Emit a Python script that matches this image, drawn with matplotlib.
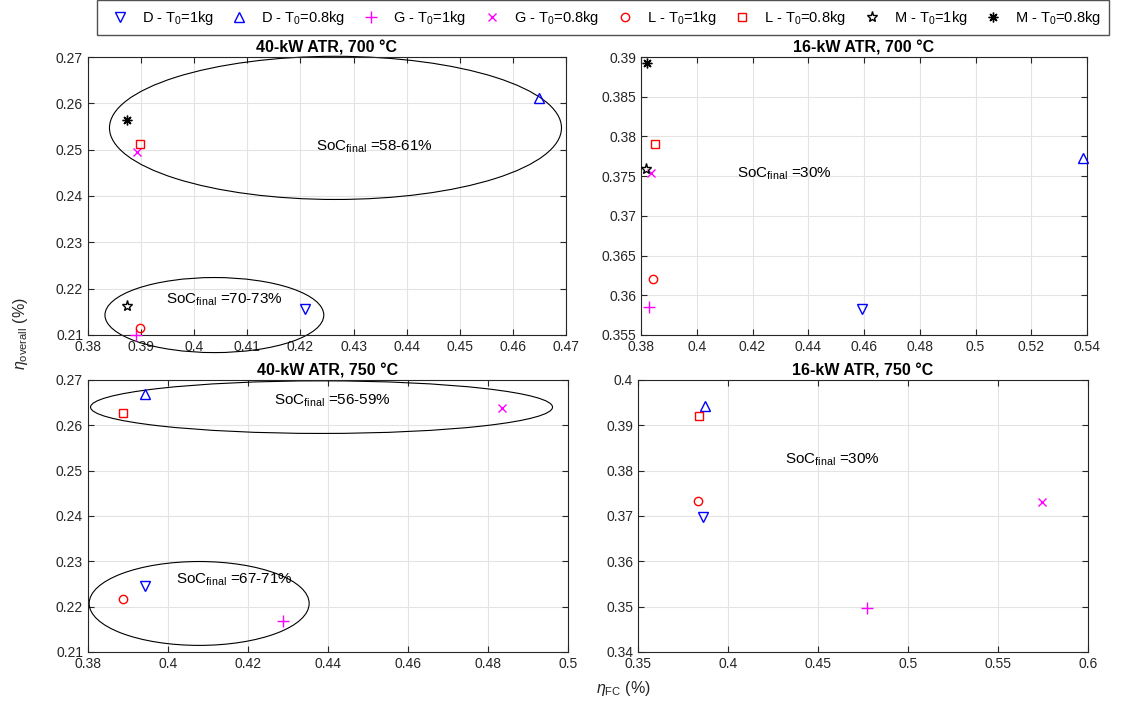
import matplotlib
matplotlib.use('Agg')
import matplotlib.pyplot as plt
from matplotlib.patches import Ellipse
from matplotlib.ticker import FuncFormatter
import numpy as np

plt.rcParams['font.family'] = ['Liberation Sans', 'DejaVu Sans']
plt.rcParams['mathtext.fontset'] = 'custom'
plt.rcParams['mathtext.rm'] = 'Liberation Sans'
plt.rcParams['mathtext.it'] = 'Liberation Sans:italic'

labels = ['D - T$_0$=1kg', 'D - T$_0$=0.8kg', 'G - T$_0$=1kg', 'G - T$_0$=0.8kg',
          'L - T$_0$=1kg', 'L - T$_0$=0.8kg', 'M - T$_0$=1kg', 'M - T$_0$=0.8kg']

# order: D1, D0.8, G1, G0.8, L1, L0.8, M1, M0.8
x_40_700 = [0.4209, 0.4649, 0.3890, 0.3892, 0.3898, 0.3898, 0.3874, 0.3874]
y_40_700 = [0.2156, 0.2612, 0.2100, 0.2496, 0.2114, 0.2512, 0.2163, 0.2565]

x_16_700 = [0.4591, 0.5384, 0.3830, 0.3837, 0.3842, 0.3851, 0.3818, 0.3822]
y_16_700 = [0.3583, 0.3773, 0.3585, 0.3754, 0.3620, 0.3790, 0.3759, 0.3893]

x_40_750 = [0.3942, 0.3942, 0.4287, 0.4835, 0.3887, 0.3887, np.nan, np.nan]
y_40_750 = [0.2246, 0.2668, 0.2169, 0.2639, 0.2216, 0.2626, np.nan, np.nan]

x_16_750 = [0.3859, 0.3870, 0.4775, 0.5743, 0.3831, 0.3837, np.nan, np.nan]
y_16_750 = [0.3697, 0.3943, 0.3496, 0.3731, 0.3734, 0.3920, np.nan, np.nan]

markers = ['v', '^', '+', 'x', 'o', 's', '*', (8, 2, 0)]
colors = ['blue', 'blue', 'magenta', 'magenta', 'red', 'red', 'black', 'black']
msizes = [7, 7, 8, 6, 6, 6, 8, 7]

fig = plt.figure(figsize=(11.32, 7.17), dpi=100)

panels = [
    dict(rect=[0.0777, 0.5328, 0.4223, 0.3877], x=x_40_700, y=y_40_700,
         title='40-kW ATR, 700 °C', xlim=(0.38, 0.47), xt=np.arange(0.38, 0.4701, 0.01),
         ylim=(0.21, 0.27), yt=np.arange(0.21, 0.2701, 0.01),
         ell=[(0.4266, 0.2547, 0.0851, 0.0309), (0.4038, 0.2143, 0.0412, 0.0162)],
         txt=[(0.4230, 0.2507, '58-61%'), (0.3947, 0.2175, '70-73%')]),
    dict(rect=[0.5663, 0.5328, 0.3940, 0.3877], x=x_16_700, y=y_16_700,
         title='16-kW ATR, 700 °C', xlim=(0.38, 0.54), xt=np.arange(0.38, 0.5401, 0.02),
         ylim=(0.355, 0.39), yt=np.arange(0.355, 0.3901, 0.005),
         ell=[], txt=[(0.4144, 0.3753, '30%')]),
    dict(rect=[0.0777, 0.0907, 0.4240, 0.3794], x=x_40_750, y=y_40_750,
         title='40-kW ATR, 750 °C', xlim=(0.38, 0.5), xt=np.arange(0.38, 0.5001, 0.02),
         ylim=(0.21, 0.27), yt=np.arange(0.21, 0.2701, 0.01),
         ell=[(0.4384, 0.2640, 0.1155, 0.0116), (0.4078, 0.2207, 0.0550, 0.0185)],
         txt=[(0.4265, 0.2654, '56-59%'), (0.4020, 0.2259, '67-71%')]),
    dict(rect=[0.5636, 0.0907, 0.3975, 0.3794], x=x_16_750, y=y_16_750,
         title='16-kW ATR, 750 °C', xlim=(0.35, 0.6), xt=np.arange(0.35, 0.6001, 0.05),
         ylim=(0.34, 0.40), yt=np.arange(0.34, 0.4001, 0.01),
         ell=[], txt=[(0.4318, 0.3824, '30%')]),
]

fmt = FuncFormatter(lambda v, p: '%g' % round(v, 4))
handles = []
for p in panels:
    ax = fig.add_axes(p['rect'])
    handles = []
    for i in range(len(labels)):
        h, = ax.plot(p['x'][i], p['y'][i], linestyle='none', marker=markers[i],
                     color=colors[i], mfc='none', ms=msizes[i], mew=1.0,
                     clip_on=False, zorder=3)
        handles.append(h)
    for cx, cy, w, hgt in p['ell']:
        ax.add_patch(Ellipse((cx, cy), w, hgt, fill=False, ec='black', lw=0.8,
                             clip_on=False, zorder=2))
    for tx, ty, s in p['txt']:
        ax.text(tx, ty, 'SoC$_{\\rm final}$ =' + s, fontsize=11, va='center', ha='left')
    ax.set_xlim(p['xlim'])
    ax.set_ylim(p['ylim'])
    ax.set_xticks(p['xt'])
    ax.set_yticks(p['yt'])
    ax.xaxis.set_major_formatter(fmt)
    ax.yaxis.set_major_formatter(fmt)
    ax.set_title(p['title'], fontsize=11.5, fontweight='bold', pad=3.5)
    ax.grid(True, color='#e3e3e3', lw=0.8)
    ax.set_axisbelow(True)
    ax.tick_params(direction='in', top=True, right=True, labelsize=10,
                   colors='#262626', length=4, width=0.8)
    for sp in ax.spines.values():
        sp.set_color('#262626')
        sp.set_linewidth(0.8)

fig.legend(handles, labels, loc='center', ncol=8, bbox_to_anchor=(0.5327, 0.975),
           fontsize=10.5, frameon=True, fancybox=False, edgecolor='#262626',
           handlelength=2.0, handletextpad=0.5, columnspacing=0.78, borderpad=0.58)

fig.text(0.018, 0.534, '$\\eta_{\\rm overall}$ (%)', rotation=90, ha='center', va='center',
         fontsize=11.5, color='#262626')
fig.text(0.551, 0.040, '$\\eta_{\\rm FC}$ (%)', ha='center', va='center',
         fontsize=11.5, color='#262626')

fig.savefig('out.png', dpi=100)
